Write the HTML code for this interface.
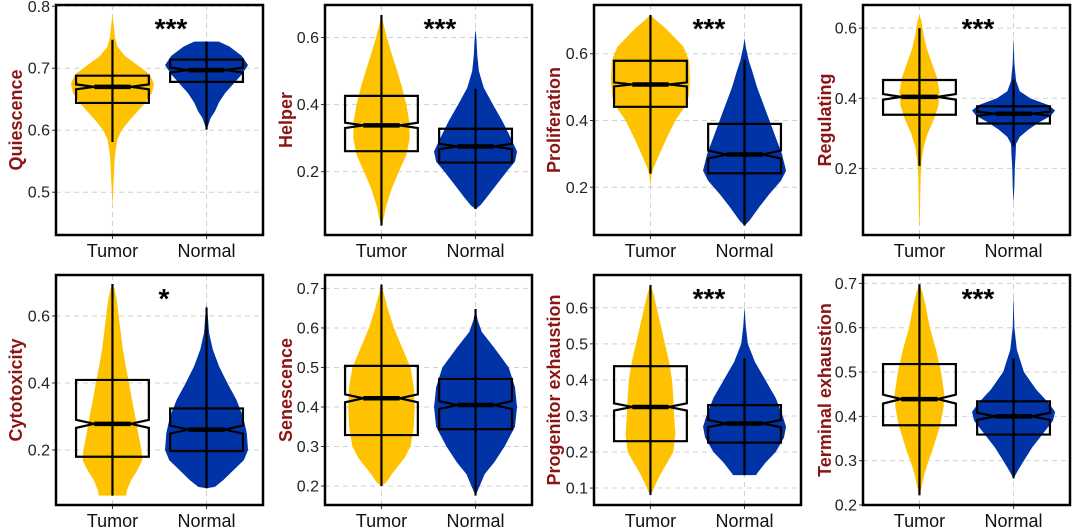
<!DOCTYPE html>
<html><head><meta charset="utf-8"><style>
html,body{margin:0;padding:0;background:#fff;}
svg{display:block;font-family:"Liberation Sans",sans-serif;}
</style></head><body>
<svg id="chart" width="1080" height="531" viewBox="0 0 1080 531" xmlns="http://www.w3.org/2000/svg"></svg>
<script>
const titles = ["Quiescence","Helper","Proliferation","Regulating","Cytotoxicity","Senescence","Progenitor exhaustion","Terminal exhaustion"];
const categories = ["Tumor","Normal"];
const stars = ["***","***","***","***","*","","***","***"];
const yDomains = [[0.431,0.802],[0.011,0.697],[0.057,0.746],[0.010,0.666],[0.036,0.722],[0.152,0.734],[0.053,0.691],[0.200,0.719]];
const yTicks = [[0.5,0.6,0.7,0.8],[0.2,0.4,0.6],[0.2,0.4,0.6],[0.2,0.4,0.6],[0.2,0.4,0.6],[0.2,0.3,0.4,0.5,0.6,0.7],[0.1,0.2,0.3,0.4,0.5,0.6],[0.2,0.3,0.4,0.5,0.6,0.7]];
const tickLabels = [["0.5","0.6","0.7","0.8"],["0.2","0.4","0.6"],["0.2","0.4","0.6"],["0.2","0.4","0.6"],["0.2","0.4","0.6"],["0.2","0.3","0.4","0.5","0.6","0.7"],["0.1","0.2","0.3","0.4","0.5","0.6"],["0.2","0.3","0.4","0.5","0.6","0.7"]];
// box stats: [whiskLo, q1, median, q3, whiskHi, notchHalf]
const tumorBox = [[0.581,0.644,0.670,0.688,0.746,0.004],[0.039,0.261,0.338,0.426,0.667,0.008],[0.241,0.441,0.508,0.579,0.716,0.006],[0.207,0.353,0.404,0.452,0.600,0.008],[0.064,0.180,0.278,0.409,0.695,0.012],[0.200,0.329,0.422,0.504,0.710,0.010],[0.081,0.230,0.325,0.438,0.663,0.010],[0.222,0.380,0.439,0.518,0.698,0.010]];
const normalBox = [[0.601,0.678,0.697,0.714,0.743,0.004],[0.088,0.227,0.275,0.328,0.447,0.008],[0.085,0.242,0.298,0.390,0.582,0.012],[0.263,0.328,0.356,0.377,0.453,0.006],[0.086,0.197,0.261,0.324,0.625,0.012],[0.176,0.344,0.405,0.471,0.648,0.010],[0.136,0.226,0.279,0.330,0.460,0.010],[0.260,0.359,0.400,0.434,0.531,0.008]];
// violin density profiles: [value, relative density]
const tumorDensity = [
 [[0.476,0],[0.50,0.015],[0.52,0.03],[0.55,0.05],[0.57,0.08],[0.585,0.12],[0.60,0.22],[0.615,0.4],[0.63,0.6],[0.645,0.8],[0.66,0.95],[0.675,1],[0.69,0.9],[0.705,0.6],[0.72,0.3],[0.735,0.12],[0.75,0.06],[0.77,0.03],[0.786,0]],
 [[0.039,0],[0.06,0.05],[0.1,0.12],[0.15,0.25],[0.2,0.42],[0.25,0.6],[0.3,0.68],[0.35,0.67],[0.4,0.6],[0.45,0.5],[0.5,0.38],[0.55,0.25],[0.6,0.13],[0.64,0.05],[0.667,0]],
 [[0.204,0],[0.24,0.03],[0.26,0.08],[0.30,0.22],[0.35,0.4],[0.40,0.6],[0.44,0.82],[0.47,0.92],[0.52,0.95],[0.58,0.93],[0.62,0.8],[0.65,0.57],[0.68,0.33],[0.70,0.14],[0.716,0]],
 [[0.036,0],[0.06,0.01],[0.12,0.02],[0.18,0.03],[0.22,0.05],[0.26,0.1],[0.30,0.2],[0.34,0.35],[0.38,0.46],[0.42,0.48],[0.46,0.42],[0.50,0.3],[0.54,0.18],[0.58,0.1],[0.62,0.05],[0.638,0]],
 [[0.0639,0],[0.064,0.33],[0.08,0.35],[0.11,0.45],[0.14,0.6],[0.17,0.72],[0.2,0.7],[0.25,0.62],[0.3,0.55],[0.35,0.47],[0.4,0.4],[0.45,0.32],[0.5,0.25],[0.55,0.2],[0.6,0.15],[0.65,0.1],[0.68,0.05],[0.695,0]],
 [[0.2,0],[0.21,0.12],[0.23,0.25],[0.25,0.4],[0.27,0.55],[0.3,0.7],[0.35,0.78],[0.4,0.8],[0.45,0.78],[0.5,0.7],[0.55,0.5],[0.6,0.3],[0.65,0.15],[0.69,0.05],[0.71,0]],
 [[0.081,0],[0.09,0.05],[0.11,0.12],[0.14,0.25],[0.17,0.4],[0.2,0.55],[0.25,0.6],[0.3,0.57],[0.35,0.55],[0.4,0.52],[0.45,0.45],[0.5,0.35],[0.55,0.25],[0.6,0.15],[0.64,0.07],[0.663,0]],
 [[0.222,0],[0.24,0.05],[0.27,0.12],[0.3,0.22],[0.32,0.3],[0.35,0.4],[0.38,0.5],[0.42,0.58],[0.45,0.6],[0.5,0.52],[0.55,0.4],[0.6,0.25],[0.65,0.15],[0.68,0.07],[0.698,0]]
];
const normalDensity = [
 [[0.60,0],[0.61,0.05],[0.62,0.1],[0.63,0.2],[0.645,0.3],[0.66,0.45],[0.675,0.65],[0.69,0.85],[0.705,1],[0.72,0.85],[0.735,0.55],[0.743,0.3],[0.7431,0]],
 [[0.088,0],[0.1,0.12],[0.12,0.25],[0.16,0.5],[0.2,0.75],[0.23,0.95],[0.26,1],[0.3,0.85],[0.35,0.65],[0.4,0.42],[0.45,0.2],[0.5,0.08],[0.55,0.04],[0.6,0.02],[0.623,0]],
 [[0.085,0],[0.1,0.12],[0.14,0.35],[0.18,0.6],[0.22,0.88],[0.25,1],[0.3,0.9],[0.35,0.75],[0.4,0.6],[0.45,0.45],[0.5,0.3],[0.55,0.18],[0.58,0.1],[0.62,0.03],[0.647,0]],
 [[0.10,0],[0.15,0.02],[0.2,0.03],[0.24,0.05],[0.27,0.06],[0.29,0.15],[0.31,0.35],[0.33,0.6],[0.35,0.9],[0.365,1],[0.38,0.85],[0.40,0.4],[0.42,0.15],[0.45,0.06],[0.5,0.02],[0.572,0]],
 [[0.086,0],[0.09,0.2],[0.11,0.4],[0.14,0.65],[0.17,0.9],[0.2,1],[0.25,0.97],[0.3,0.88],[0.35,0.72],[0.4,0.5],[0.45,0.3],[0.5,0.15],[0.55,0.06],[0.6,0.03],[0.633,0]],
 [[0.176,0],[0.2,0.1],[0.23,0.22],[0.26,0.45],[0.3,0.7],[0.35,0.95],[0.4,1],[0.45,0.95],[0.5,0.8],[0.55,0.45],[0.59,0.15],[0.62,0.05],[0.648,0]],
 [[0.1359,0],[0.136,0.28],[0.14,0.3],[0.17,0.5],[0.2,0.75],[0.24,0.95],[0.27,1],[0.3,0.92],[0.35,0.75],[0.4,0.5],[0.45,0.25],[0.5,0.08],[0.55,0.03],[0.603,0]],
 [[0.26,0],[0.28,0.12],[0.3,0.25],[0.33,0.45],[0.36,0.7],[0.39,0.95],[0.41,1],[0.43,0.85],[0.46,0.55],[0.5,0.25],[0.55,0.08],[0.6,0.02],[0.674,0]]
];
const panelLefts = [56,325,594,863,56,325,594,863];
const panelTops = [5,5,5,5,275,275,275,275];
const titleXs = [16,286,554,825,16,286,554,825];
const PW = 207, PH = 230, MAXHALF = 41.5, BW = 36.4, NW = 18.2;
const COLORS = ["#FFC200","#0033A6"];
const NS = "http://www.w3.org/2000/svg";
const svg = document.getElementById("chart");
function mk(tag, attrs, parent){const e=document.createElementNS(NS,tag);for(const k in attrs)e.setAttribute(k,attrs[k]);(parent||svg).appendChild(e);return e;}
function slug(s){return s.toLowerCase().replace(/\s+/g,'-');}

for (let p=0;p<8;p++){
  const L=panelLefts[p], T=panelTops[p], dom=yDomains[p];
  const y = v => T + PH - (v-dom[0])/(dom[1]-dom[0])*PH;
  const xc = i => L + PW*(0.6+i)/2.2;
  const g = mk("g",{});
  
  
  yTicks[p].forEach((t,i)=>{
    const gl=mk("line",{x1:L,x2:L+PW,y1:y(t),y2:y(t),stroke:"#d0d0d0","stroke-width":1,"stroke-dasharray":"5,4"},g);
    
    
    const tk=mk("line",{x1:L-4,x2:L,y1:y(t),y2:y(t),stroke:"#333","stroke-width":1},g);
    
    
    const tl=mk("text",{x:L-6,y:y(t)+5.5,"text-anchor":"end","font-size":16,fill:"#222"},g);
    tl.textContent=tickLabels[p][i];
    
    
  });
  categories.forEach((c,i)=>{
    const gl=mk("line",{x1:xc(i),x2:xc(i),y1:T,y2:T+PH,stroke:"#d0d0d0","stroke-width":1,"stroke-dasharray":"5,4"},g);
    
    
    const tk=mk("line",{x1:xc(i),x2:xc(i),y1:T+PH,y2:T+PH+4,stroke:"#333","stroke-width":1},g);
    
    
    const xl=mk("text",{x:xc(i),y:T+PH+22,"text-anchor":"middle","font-size":18,fill:"#111"},g);
    xl.textContent=c;
    
    
  });
  [tumorDensity[p], normalDensity[p]].forEach((dens,i)=>{
    const cx=xc(i);
    const right=dens.map(d=>(cx+d[1]*MAXHALF)+","+y(d[0]));
    const left=dens.slice().reverse().map(d=>(cx-d[1]*MAXHALF)+","+y(d[0]));
    const vp=mk("polygon",{points:right.concat(left).join(" "),fill:COLORS[i],stroke:"none"},g);
    
    
  });
  [tumorBox[p], normalBox[p]].forEach((b,i)=>{
    const cx=xc(i);
    const [lo,q1,md,q3,hi,nh]=b;
    const wl=mk("line",{x1:cx,x2:cx,y1:y(lo),y2:y(hi),stroke:"#000","stroke-width":2.2},g);
    
    
    const pts=[[cx-BW,y(q3)],[cx+BW,y(q3)],[cx+BW,y(md+nh)],[cx+NW,y(md)],[cx+BW,y(md-nh)],[cx+BW,y(q1)],[cx-BW,y(q1)],[cx-BW,y(md-nh)],[cx-NW,y(md)],[cx-BW,y(md+nh)]];
    const bx=mk("polygon",{points:pts.map(q=>q.join(",")).join(" "),fill:"none",stroke:"#000","stroke-width":2.2,"stroke-linejoin":"miter"},g);
    
    
    const ml=mk("line",{x1:cx-NW,x2:cx+NW,y1:y(md),y2:y(md),stroke:"#000","stroke-width":4.5},g);
    
    
  });
  const br=mk("rect",{x:L,y:T,width:PW,height:PH,fill:"none",stroke:"#000","stroke-width":2.5},g);
  
  
  if (stars[p]){
    const st=mk("text",{x:L+(stars[p].length>1?115:108),y:T+33,"text-anchor":"middle","font-size":28,"font-weight":"bold",fill:"#000"},g);
    st.textContent=stars[p];
    
    
  }
  const yt=mk("text",{x:0,y:0,transform:`translate(${titleXs[p]+6},${T+PH/2}) rotate(-90)`,"text-anchor":"middle","font-size":18,"font-weight":"bold",fill:"#8B1414"},g);
  yt.textContent=titles[p];
  
  
}
</script>
</body></html>
